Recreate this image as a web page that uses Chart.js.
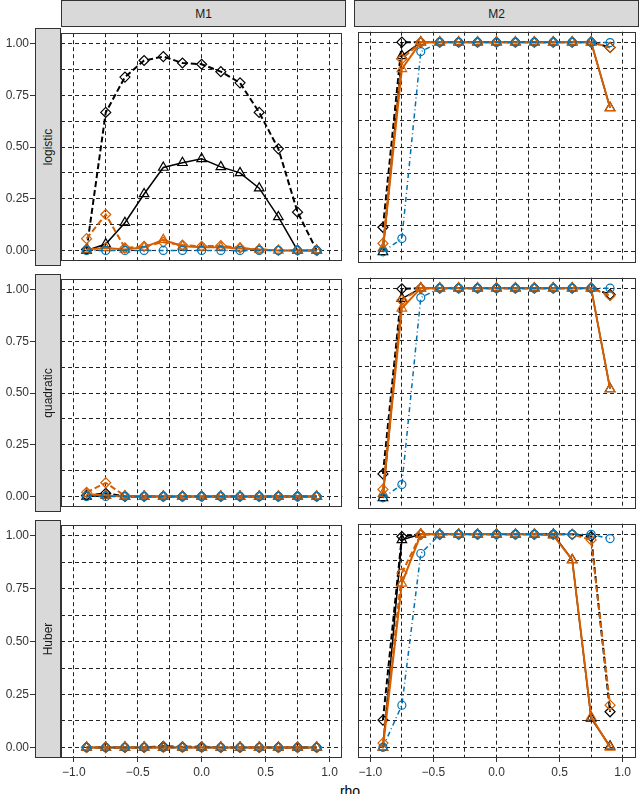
<!DOCTYPE html>
<html>
<head>
<meta charset="utf-8">
<script src="https://cdn.jsdelivr.net/npm/chart.js@4.4.0/dist/chart.umd.min.js"></script>
<style>
  html, body { margin: 0; padding: 0; background: #fff; }
  body { width: 640px; height: 794px; position: relative; overflow: hidden; font-family: "Liberation Sans", Arial, sans-serif; }
  .box { position: absolute; }
  .strip { position: absolute; box-sizing: border-box; background: #d9d9d9; border: 1px solid #333; color: #1a1a1a; font-size: 12px; display: flex; align-items: center; justify-content: center; }
  .strip.side span { transform: rotate(-90deg); white-space: nowrap; }
  #xtitle { position: absolute; left: 300px; width: 100px; top: 784px; text-align: center; font-size: 14px; line-height: 14px; color: #000; }
</style>
</head>
<body>
<div id="xtitle">rho</div>
<script>
const rho = [-0.9, -0.75, -0.6, -0.45, -0.3, -0.15, 0, 0.15, 0.3, 0.45, 0.6, 0.75, 0.9];
const xTicks = [-1, -0.75, -0.5, -0.25, 0, 0.25, 0.5, 0.75, 1];
const xLabels = [-1, -0.5, 0, 0.5, 1];
const yTicks = [0, 0.125, 0.25, 0.375, 0.5, 0.625, 0.75, 0.875, 1];
const yLabels = [0, 0.25, 0.5, 0.75, 1];
const models = ['M1', 'M2'];
const losses = ['logistic', 'quadratic', 'Huber'];

// A: black dashed diamonds, B: black solid triangles,
// C: orange dashed diamonds, D: orange solid triangles, E: blue dot-dash circles

// M1 - logistic
const m1LogA = [0.005, 0.667, 0.838, 0.918, 0.937, 0.906, 0.900, 0.864, 0.810, 0.667, 0.491, 0.185, 0.000];
const m1LogB = [0.000, 0.031, 0.134, 0.273, 0.401, 0.424, 0.443, 0.404, 0.375, 0.301, 0.162, 0.000, 0.000];
const m1LogC = [0.057, 0.174, 0.012, 0.020, 0.040, 0.026, 0.020, 0.023, 0.012, 0.005, 0.000, 0.000, 0.000];
const m1LogD = [0.005, 0.012, 0.005, 0.015, 0.052, 0.020, 0.015, 0.015, 0.010, 0.005, 0.000, 0.000, 0.000];
const m1LogE = [0, 0, 0, 0, 0, 0, 0, 0, 0, 0, 0, 0, 0];

// M1 - quadratic
const m1QuadA = [0.005, 0.015, 0, 0, 0, 0, 0, 0, 0, 0, 0, 0, 0];
const m1QuadB = [0.000, 0.005, 0, 0, 0, 0, 0, 0, 0, 0, 0, 0, 0];
const m1QuadC = [0.020, 0.066, 0.003, 0, 0, 0, 0, 0, 0, 0, 0, 0, 0];
const m1QuadD = [0.012, 0.005, 0, 0, 0, 0, 0, 0, 0, 0, 0, 0, 0];
const m1QuadE = [0, 0, 0, 0, 0, 0, 0, 0, 0, 0, 0, 0, 0];

// M1 - Huber
const m1HubA = [0, 0, 0, 0, 0.005, 0.003, 0.003, 0, 0, 0, 0, 0, 0];
const m1HubB = [0, 0, 0, 0, 0, 0, 0, 0, 0, 0, 0, 0, 0];
const m1HubC = [0, 0, 0, 0, 0, 0, 0, 0, 0, 0, 0, 0, 0];
const m1HubD = [0, 0, 0, 0, 0, 0, 0, 0, 0, 0, 0, 0, 0];
const m1HubE = [0, 0, 0, 0, 0, 0, 0, 0, 0, 0, 0, 0, 0];

// M2 - logistic
const m2LogA = [0.117, 1.000, 1, 1, 1, 1, 1, 1, 1, 1, 1, 1, 0.975];
const m2LogB = [0.000, 0.935, 1, 1, 1, 1, 1, 1, 1, 1, 1, 1, 0.687];
const m2LogC = [0.040, 0.920, 1, 1, 1, 1, 1, 1, 1, 1, 1, 1, 0.975];
const m2LogD = [0.017, 0.873, 1, 1, 1, 1, 1, 1, 1, 1, 1, 1, 0.687];
const m2LogE = [0.000, 0.063, 0.955, 1, 1, 1, 1, 1, 1, 1, 1, 1, 0.998];

// M2 - quadratic
const m2QuadA = [0.114, 0.997, 1, 1, 1, 1, 1, 1, 1, 1, 1, 1, 0.970];
const m2QuadB = [0.000, 0.950, 1, 1, 1, 1, 1, 1, 1, 1, 1, 1, 0.520];
const m2QuadC = [0.040, 0.943, 1, 1, 1, 1, 1, 1, 1, 1, 1, 1, 0.964];
const m2QuadD = [0.020, 0.904, 1, 1, 1, 1, 1, 1, 1, 1, 1, 1, 0.520];
const m2QuadE = [0.000, 0.063, 0.955, 1, 1, 1, 1, 1, 1, 1, 1, 1, 1.000];

// M2 - Huber
const m2HubA = [0.128, 0.990, 1, 1, 1, 1, 1, 1, 1, 1, 1, 0.990, 0.167];
const m2HubB = [0.000, 0.974, 1, 1, 1, 1, 1, 1, 1, 1, 0.880, 0.136, 0.005];
const m2HubC = [0.020, 0.818, 1, 1, 1, 1, 1, 1, 1, 1, 1, 0.974, 0.198];
const m2HubD = [0.000, 0.770, 1, 1, 1, 1, 1, 1, 1, 0.995, 0.880, 0.143, 0.000];
const m2HubE = [0.000, 0.198, 0.910, 1, 1, 1, 1, 1, 1, 1, 1, 1, 0.980];

const panelData = [
  [{A: m1LogA, B: m1LogB, C: m1LogC, D: m1LogD, E: m1LogE},
   {A: m2LogA, B: m2LogB, C: m2LogC, D: m2LogD, E: m2LogE}],
  [{A: m1QuadA, B: m1QuadB, C: m1QuadC, D: m1QuadD, E: m1QuadE},
   {A: m2QuadA, B: m2QuadB, C: m2QuadC, D: m2QuadD, E: m2QuadE}],
  [{A: m1HubA, B: m1HubB, C: m1HubC, D: m1HubD, E: m1HubE},
   {A: m2HubA, B: m2HubB, C: m2HubC, D: m2HubD, E: m2HubE}]
];

// first entry is drawn on top
const seriesStyle = [
  {key: 'E', color: '#0072B2', dash: [5, 3, 1, 3], point: 'circle', radius: 4, width: 1.5},
  {key: 'D', color: '#D55E00', dash: [], point: 'triangle', radius: 5.5, width: 2},
  {key: 'C', color: '#D55E00', dash: [6, 3], point: 'rectRot', radius: 5, width: 2},
  {key: 'B', color: '#000000', dash: [], point: 'triangle', radius: 5.5, width: 1.5},
  {key: 'A', color: '#000000', dash: [6, 3], point: 'rectRot', radius: 5, width: 2}
];

// panel geometry (page pixels)
const colLeft = [61, 354];
const panelW = 285;
const rowTop = [28, 274, 520];
const panelH = 238;
const pad = 3;
const fontFamily = '"Liberation Sans", Arial, sans-serif';

const fmt = (v, d) => (v < 0 ? '\u2212' : '') + Math.abs(v).toFixed(d);

const panelBox = {
  id: 'panelBox',
  afterDraw(chart) {
    const {ctx, chartArea: a} = chart;
    ctx.save();
    ctx.strokeStyle = '#333';
    ctx.lineWidth = 1;
    ctx.setLineDash([]);
    ctx.strokeRect(Math.round(a.left) + 0.5, Math.round(a.top) + 0.5,
      Math.round(a.right - a.left) - 1, Math.round(a.bottom - a.top) - 1);
    ctx.restore();
  }
};

function makePanel(r, c) {
  const isLeft = c === 0;
  const isBottom = r === 2;
  const left = isLeft ? 0 : colLeft[c] - pad;
  const top = rowTop[r] - pad;
  const width = colLeft[c] + panelW + pad - left;
  const height = (isBottom ? 794 : rowTop[r] + panelH + pad) - top;

  const wrap = document.createElement('div');
  wrap.className = 'box';
  wrap.style.left = left + 'px';
  wrap.style.top = top + 'px';
  wrap.style.width = width + 'px';
  wrap.style.height = height + 'px';
  const canvas = document.createElement('canvas');
  canvas.width = width;
  canvas.height = height;
  wrap.appendChild(canvas);
  document.body.appendChild(wrap);

  const set = panelData[r][c];

  new Chart(canvas, {
    type: 'line',
    data: {
      datasets: seriesStyle.map(s => ({
        data: rho.map((x, i) => ({x: x, y: set[s.key][i]})),
        borderColor: s.color,
        borderWidth: s.width,
        borderDash: s.dash,
        pointStyle: s.point,
        pointRadius: s.radius,
        pointBorderColor: s.color,
        pointBackgroundColor: 'rgba(0,0,0,0)',
        pointBorderWidth: 1.2,
        fill: false,
        tension: 0
      }))
    },
    options: {
      responsive: false,
      animation: false,
      devicePixelRatio: 1,
      layout: {padding: {left: isLeft ? 0 : pad, right: pad, top: pad, bottom: isBottom ? 0 : pad}},
      plugins: {legend: {display: false}, tooltip: {enabled: false}},
      scales: {
        x: {
          type: 'linear',
          min: -1.1,
          max: 1.1,
          afterBuildTicks: axis => { axis.ticks = xTicks.map(v => ({value: v})); },
          afterFit: axis => { axis.height = isBottom ? 794 - (rowTop[2] + panelH) : 0; },
          grid: {
            color: '#222',
            lineWidth: 1,
            drawTicks: isBottom,
            tickLength: 4,
            tickWidth: 1,
            tickBorderDash: [],
            tickColor: ctx => (ctx.tick && xLabels.includes(ctx.tick.value)) ? '#333' : 'rgba(0,0,0,0)'
          },
          border: {display: false, dash: [4, 3]},
          ticks: {
            display: isBottom,
            autoSkip: false,
            maxRotation: 0,
            padding: 3,
            color: '#333',
            font: {family: fontFamily, size: 12},
            callback: v => xLabels.includes(v) ? fmt(v, 1) : ''
          }
        },
        y: {
          type: 'linear',
          min: -0.05,
          max: 1.05,
          afterBuildTicks: axis => { axis.ticks = yTicks.map(v => ({value: v})); },
          afterFit: axis => { axis.width = isLeft ? colLeft[0] : 0; },
          grid: {
            color: '#222',
            lineWidth: 1,
            drawTicks: isLeft,
            tickLength: colLeft[0] - 30,
            tickWidth: 1,
            tickBorderDash: [],
            tickColor: ctx => (ctx.tick && yLabels.includes(ctx.tick.value)) ? '#333' : 'rgba(0,0,0,0)'
          },
          border: {display: false, dash: [4, 3]},
          ticks: {
            display: isLeft,
            autoSkip: false,
            padding: 1,
            color: '#333',
            font: {family: fontFamily, size: 12},
            callback: v => yLabels.includes(v) ? fmt(v, 2) : ''
          }
        }
      }
    },
    plugins: [panelBox]
  });
}

for (let r = 0; r < 3; r++) {
  for (let c = 0; c < 2; c++) makePanel(r, c);
}

// facet strips
models.forEach((m, c) => {
  const d = document.createElement('div');
  d.className = 'strip';
  d.style.left = colLeft[c] + 'px';
  d.style.top = '0px';
  d.style.width = panelW + 'px';
  d.style.height = '27px';
  d.textContent = m;
  document.body.appendChild(d);
});
losses.forEach((l, r) => {
  const d = document.createElement('div');
  d.className = 'strip side';
  d.style.left = '35px';
  d.style.top = rowTop[r] + 'px';
  d.style.width = '26px';
  d.style.height = panelH + 'px';
  const s = document.createElement('span');
  s.textContent = l;
  d.appendChild(s);
  document.body.appendChild(d);
});
</script>
</body>
</html>
